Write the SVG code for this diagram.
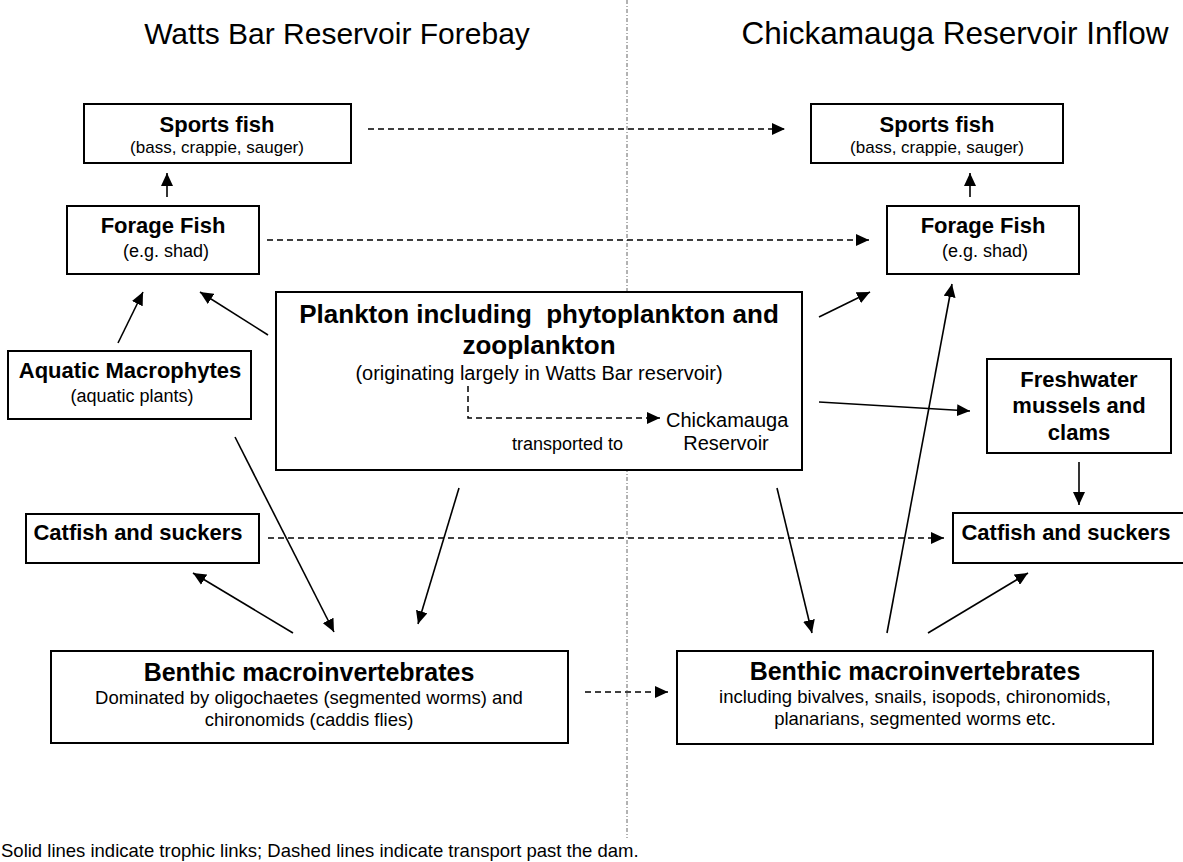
<svg xmlns="http://www.w3.org/2000/svg" width="1183" height="862" viewBox="0 0 1183 862">
<style>
text{font-family:"Liberation Sans",Arial,sans-serif;fill:#000}
.t{font-size:22px;font-weight:bold;text-anchor:middle}
.s{font-size:18px;text-anchor:middle}
.box{fill:#fff;stroke:#000;stroke-width:2}
.ln{stroke:#000;stroke-width:1.6;fill:none;marker-end:url(#ah)}
.dl{stroke:#000;stroke-width:1.5;fill:none;stroke-dasharray:6,4;marker-end:url(#ah)}
.hd{font-size:30px;text-anchor:middle}
</style>
<defs>
<marker id="ah" markerUnits="userSpaceOnUse" markerWidth="14" markerHeight="12" refX="13" refY="6" orient="auto">
<path d="M0,0 L13,6 L0,12 Z" fill="#000"/>
</marker>
</defs>
<rect width="1183" height="862" fill="#fff"/>
<line x1="627" y1="0" x2="627" y2="838" stroke="#666" stroke-width="1" stroke-dasharray="4,2,1,2"/>
<text class="hd" x="337" y="44">Watts Bar Reservoir Forebay</text>
<text class="hd" x="955" y="44" style="font-size:31.5px">Chickamauga Reservoir Inflow</text>

<g id="connectors">
<line class="ln" x1="167" y1="197" x2="167" y2="173"/>
<line class="ln" x1="970" y1="197" x2="970" y2="173"/>
<line class="ln" x1="118" y1="343" x2="143" y2="292"/>
<line class="ln" x1="268" y1="335" x2="200" y2="292"/>
<line class="ln" x1="819" y1="317" x2="870" y2="292"/>
<line class="ln" x1="819" y1="402" x2="970" y2="411"/>
<line class="ln" x1="1079" y1="462" x2="1079" y2="505"/>
<line class="ln" x1="235" y1="437" x2="334" y2="632"/>
<line class="ln" x1="459" y1="488" x2="418" y2="624"/>
<line class="ln" x1="293" y1="633" x2="193" y2="573"/>
<line class="ln" x1="777" y1="488" x2="812" y2="633"/>
<line class="ln" x1="887" y1="633" x2="952" y2="284"/>
<line class="ln" x1="928" y1="633" x2="1028" y2="573"/>
<line class="dl" x1="368" y1="129" x2="785" y2="129"/>
<line class="dl" x1="267" y1="240" x2="869" y2="240"/>
<line class="dl" x1="268" y1="538" x2="944" y2="538"/>
<line class="dl" x1="585" y1="692" x2="668" y2="692"/>
</g>

<g id="sports-left">
<rect class="box" x="84" y="104" width="267" height="59"/>
<text class="t" x="217" y="132">Sports fish</text>
<text class="s" x="217" y="153" style="font-size:17px">(bass, crappie, sauger)</text>
</g>
<g id="sports-right">
<rect class="box" x="811" y="104" width="252" height="59"/>
<text class="t" x="937" y="132">Sports fish</text>
<text class="s" x="937" y="153" style="font-size:17px">(bass, crappie, sauger)</text>
</g>
<g id="forage-left">
<rect class="box" x="67" y="206" width="192" height="68"/>
<text class="t" x="163" y="233">Forage Fish</text>
<text class="s" x="166" y="257">(e.g. shad)</text>
</g>
<g id="forage-right">
<rect class="box" x="887" y="206" width="192" height="68"/>
<text class="t" x="983" y="233">Forage Fish</text>
<text class="s" x="985" y="257">(e.g. shad)</text>
</g>
<g id="macrophytes">
<rect class="box" x="8" y="351" width="243" height="68"/>
<text class="t" x="130" y="378">Aquatic Macrophytes</text>
<text class="s" x="132" y="402">(aquatic plants)</text>
</g>
<g id="plankton">
<rect class="box" x="276" y="292" width="526" height="178"/>
<text class="t" x="539" y="323" style="font-size:26px;white-space:pre">Plankton including  phytoplankton and</text>
<text class="t" x="539" y="354" style="font-size:26px">zooplankton</text>
<text class="s" x="539" y="380" style="font-size:20px">(originating largely in Watts Bar reservoir)</text>
<path d="M468,386 V418 H660" stroke="#000" stroke-width="1.5" fill="none" stroke-dasharray="6,4" marker-end="url(#ah)"/>
<text x="666" y="427" style="font-size:20px">Chickamauga</text>
<text x="726" y="450" style="font-size:20px;text-anchor:middle">Reservoir</text>
<text x="623" y="450" style="font-size:18px;text-anchor:end">transported to</text>
</g>
<g id="mussels">
<rect class="box" x="987" y="359" width="184" height="94"/>
<text class="t" x="1079" y="387">Freshwater</text>
<text class="t" x="1079" y="413">mussels and</text>
<text class="t" x="1079" y="440">clams</text>
</g>
<g id="catfish-left">
<rect class="box" x="26" y="514" width="233" height="49"/>
<text class="t" x="138" y="540">Catfish and suckers</text>
</g>
<g id="catfish-right">
<rect class="box" x="953" y="513" width="231" height="50"/>
<text class="t" x="1066" y="540">Catfish and suckers</text>
</g>
<g id="benthic-left">
<rect class="box" x="51" y="651" width="517" height="92"/>
<text class="t" x="309" y="681" style="font-size:25px">Benthic macroinvertebrates</text>
<text class="s" x="309" y="704" style="font-size:18.5px">Dominated by oligochaetes (segmented worms) and</text>
<text class="s" x="309" y="726" style="font-size:18.5px">chironomids (caddis flies)</text>
</g>
<g id="benthic-right">
<rect class="box" x="677" y="651" width="476" height="93"/>
<text class="t" x="915" y="680" style="font-size:25px">Benthic macroinvertebrates</text>
<text class="s" x="915" y="703" style="font-size:18.5px">including bivalves, snails, isopods, chironomids,</text>
<text class="s" x="915" y="725" style="font-size:18.5px">planarians, segmented worms etc.</text>
</g>
<text x="1" y="857" style="font-size:18.5px">Solid lines indicate trophic links; Dashed lines indicate transport past the dam.</text>
</svg>
